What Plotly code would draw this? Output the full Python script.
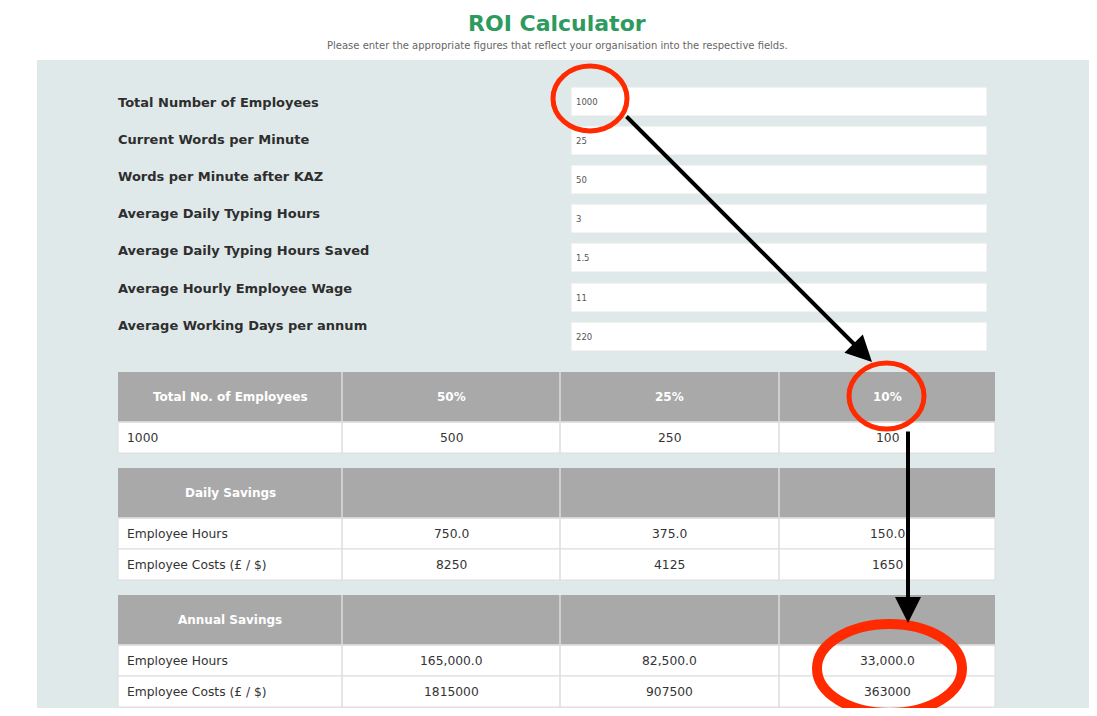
import plotly.graph_objects as go

W, H = 1097, 716
OFF = 8  # default page body margin

title = "ROI Calculator"
subtitle = "Please enter the appropriate figures that reflect your organisation into the respective fields."

input_labels = ["Total Number of Employees", "Current Words per Minute", "Words per Minute after KAZ",
                "Average Daily Typing Hours", "Average Daily Typing Hours Saved",
                "Average Hourly Employee Wage", "Average Working Days per annum"]
input_values = ["1000", "25", "50", "3", "1.5", "11", "220"]

t1_header = ["Total No. of Employees", "50%", "25%", "10%"]
t1_row = ["1000", "500", "250", "100"]

t2_header = ["Daily Savings", "", "", ""]
t2_rows = [["Employee Hours", "750.0", "375.0", "150.0"],
           ["Employee Costs (£ / $)", "8250", "4125", "1650"]]

t3_header = ["Annual Savings", "", "", ""]
t3_rows = [["Employee Hours", "165,000.0", "82,500.0", "33,000.0"],
           ["Employee Costs (£ / $)", "1815000", "907500", "363000"]]

FONT = "DejaVu Sans"
PANEL = "#e0e9ea"
HEAD = "#a9a9a9"
GRID = "#dcdcdc"

fig = go.Figure()
shapes = []
ann = []

# panel
shapes.append(dict(type="rect", x0=37, x1=W + 10, y0=60, y1=H + 10, fillcolor=PANEL, line=dict(width=0), layer="below"))

ann.append(dict(x=557, y=23, text="<b>" + title + "</b>", showarrow=False,
                font=dict(family=FONT, size=22, color="#2e9a5e")))
ann.append(dict(x=557, y=45, text=subtitle, showarrow=False,
                font=dict(family=FONT, size=10, color="#666666")))

# inputs
box_tops = [87, 126, 165, 204, 243, 283, 322]
label_ys = [102, 139, 176, 213, 250, 288, 325]
for lab, val, bt, ly in zip(input_labels, input_values, box_tops, label_ys):
    ann.append(dict(x=116, y=ly, text="<b>" + lab + "</b>", showarrow=False, xanchor="left",
                    font=dict(family=FONT, size=13, color="#2e2e2e")))
    shapes.append(dict(type="rect", x0=571, x1=987, y0=bt, y1=bt + 29, fillcolor="white",
                       line=dict(width=1, color="#e4e8e8")))
    ann.append(dict(x=574, y=bt + 15, text=val, showarrow=False, xanchor="left",
                    font=dict(family=FONT, size=8.5, color="#555555")))

cols = [118, 342, 560, 779, 995]


def draw_table(top, header, rows):
    shapes.append(dict(type="rect", x0=cols[0], x1=cols[-1], y0=top, y1=top + 50, fillcolor=HEAD,
                       line=dict(width=0)))
    for i, h in enumerate(header):
        if h:
            ann.append(dict(x=(cols[i] + cols[i + 1]) / 2, y=top + 25, text="<b>" + h + "</b>",
                            showarrow=False, font=dict(family=FONT, size=12, color="white")))
    y = top + 50
    for r in rows:
        shapes.append(dict(type="rect", x0=cols[0], x1=cols[-1], y0=y, y1=y + 31, fillcolor="white",
                           line=dict(width=1, color=GRID)))
        for i, c in enumerate(r):
            if i == 0:
                ann.append(dict(x=125, y=y + 16, text=c, showarrow=False, xanchor="left",
                                font=dict(family=FONT, size=12.3, color="#333333")))
            else:
                ann.append(dict(x=(cols[i] + cols[i + 1]) / 2, y=y + 16, text=c, showarrow=False,
                                font=dict(family=FONT, size=12.3, color="#333333")))
        y += 31
    for cx in cols[1:-1]:
        shapes.append(dict(type="line", x0=cx, x1=cx, y0=top, y1=y, line=dict(width=1.5, color=GRID)))
    shapes.append(dict(type="line", x0=cols[0], x1=cols[-1], y0=top + 50, y1=top + 50,
                       line=dict(width=1.5, color=GRID)))


draw_table(372, t1_header, [t1_row])
draw_table(468, t2_header, t2_rows)
draw_table(595, t3_header, t3_rows)

# red highlight ellipses
RED = "#ff2a00"
shapes.append(dict(type="circle", x0=553, x1=627, y0=66, y1=131, line=dict(width=5, color=RED)))
shapes.append(dict(type="circle", x0=849, x1=924, y0=363, y1=429, line=dict(width=5, color=RED)))
shapes.append(dict(type="circle", x0=817, x1=962, y0=624, y1=713, line=dict(width=10, color=RED)))

# arrows
ann.append(dict(x=872, y=362, ax=625, ay=115, axref="x", ayref="y", xref="x", yref="y",
                showarrow=True, arrowhead=2, arrowsize=1.3, arrowwidth=4, arrowcolor="black", text=""))
ann.append(dict(x=908, y=623, ax=908, ay=430, axref="x", ayref="y", xref="x", yref="y",
                showarrow=True, arrowhead=2, arrowsize=1.3, arrowwidth=4, arrowcolor="black", text=""))

fig.update_layout(
    width=W - 2 * OFF, height=H - 2 * OFF, margin=dict(l=0, r=0, t=0, b=0),
    paper_bgcolor="white", plot_bgcolor="white",
    xaxis=dict(range=[OFF, W - OFF], visible=False, fixedrange=True),
    yaxis=dict(range=[H - OFF, OFF], visible=False, fixedrange=True),
    shapes=shapes, annotations=ann, showlegend=False,
)
fig.write_html("out.html")
